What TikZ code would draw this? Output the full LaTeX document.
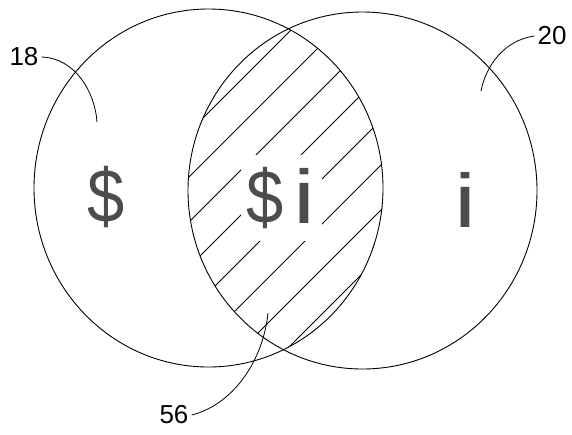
\documentclass[tikz,border=0pt]{standalone}
\usepackage{fontspec}
\usepackage{graphicx}
\setmainfont{Liberation Sans}
\newcommand{\narrowdollar}{\scalebox{0.88}[1]{\$}}
\newcommand{\wideeye}{\scalebox{1.3}[1]{i}}
\begin{document}
\begin{tikzpicture}[x=1pt,y=-1pt,
  outline/.style={line width=0.9pt},
  hatch/.style={line width=0.8pt},
  bigtext/.style={font=\fontsize{76}{76}\selectfont, text=black!70, inner sep=0pt},
  reflabel/.style={font=\fontsize{26}{26}\selectfont, inner sep=3pt},
  leader/.style={line width=0.8pt}]
\useasboundingbox (0,0) rectangle (572,434);
\coordinate (cL) at (208.5,188);
\coordinate (cR) at (362.5,190.5);
% hatching of the intersection
\begin{scope}
  \clip (cL) ellipse [x radius=174.5pt, y radius=179pt];
  \clip (cR) ellipse [x radius=174.5pt, y radius=178.5pt];
  \foreach \c in {321,366,...,636}
    \draw[hatch] (150,\c-150) -- (420,\c-420);
\end{scope}
% circles
\draw[outline] (cL) ellipse [x radius=174.5pt, y radius=179pt];
\draw[outline] (cR) ellipse [x radius=174.5pt, y radius=178.5pt];
% texts
\node[bigtext] (tL) at (106,197) {\narrowdollar};
\node[bigtext, fill=white, minimum width=81pt, minimum height=86pt] (tM) at (281,198) {\narrowdollar\kern9pt\wideeye};
\node[bigtext] (tR) at (465,200) {\wideeye};
% reference labels
\node[reflabel] (n18) at (24,57) {18};
\node[reflabel] (n20) at (552,36) {20};
\node[reflabel] (n56) at (174,415) {56};
\coordinate (e18) at (97,122);
\coordinate (e20) at (481,91);
\coordinate (e56) at (268,313);
\draw[leader] (n18.east) .. controls (75,58) and (95,92) .. (e18);
\draw[leader] (n20.west) .. controls (505,40) and (486,65) .. (e20);
\draw[leader] (n56.east) .. controls (232,405) and (263,362) .. (e56);
\end{tikzpicture}
\end{document}
